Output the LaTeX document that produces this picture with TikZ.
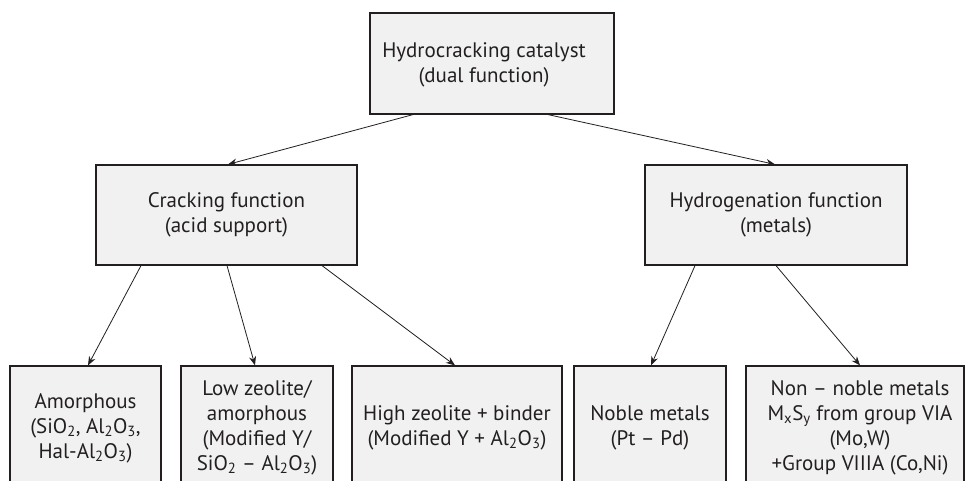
\documentclass[tikz,border=0pt]{standalone}
\usepackage{fontspec}
\setmainfont{PT Sans}
\usetikzlibrary{arrows.meta}
\definecolor{boxfill}{HTML}{F1F1F1}
\definecolor{ink}{HTML}{231F20}
\tikzset{
  box/.style={draw=ink, fill=boxfill, line width=1.2pt, inner sep=0pt, align=center,
    text=ink, font=\fontsize{21}{25}\selectfont},
  txt/.style={inner sep=0pt, align=center, text=ink, font=\fontsize{21}{25}\selectfont},
  conn/.style={draw=ink, line width=0.8pt, -{Stealth[length=9pt,width=7pt]}}
}
\begin{document}
\begin{tikzpicture}[x=1pt,y=-1pt]
\clip (0,0) rectangle (965,481);
\useasboundingbox (0,0) rectangle (965,481);
\fill[white] (0,0) rectangle (965,481);
% top
\node[box, minimum width=244pt, minimum height=101pt] (top) at (492,63.5) {};
\node[txt] (toptxt) at ([xshift=-8pt,yshift=-1.5pt]top.center)
  {Hydrocracking catalyst\\(dual function)};
% middle
\node[box, minimum width=261pt, minimum height=100pt] (crack) at (226.5,215)
  {Cracking function\\(acid support)};
\node[box, minimum width=262pt, minimum height=100pt] (hydro) at (776,215)
  {Hydrogenation function\\(metals)};
% bottom
\node[box, minimum width=151pt, minimum height=124pt] (amor) at (85.5,428)
  {Amorphous\\(SiO\textsubscript{2}, Al\textsubscript{2}O\textsubscript{3},\\Hal-Al\textsubscript{2}O\textsubscript{3})};
\node[box, minimum width=152pt, minimum height=124pt] (low) at (257,428)
  {Low zeolite/\\amorphous\\(Modified Y/\\SiO\textsubscript{2} -- Al\textsubscript{2}O\textsubscript{3})};
\node[box, minimum width=210pt, minimum height=124pt] (high) at (457,428)
  {High zeolite + binder\\(Modified Y + Al\textsubscript{2}O\textsubscript{3})};
\node[box, minimum width=152pt, minimum height=124pt] (noble) at (650,428)
  {Noble metals\\(Pt -- Pd)};
\node[box, minimum width=218pt, minimum height=124pt] (non) at (855,428) {};
\node[txt] (nontxt) at ([xshift=5pt]non.center)
  {Non -- noble metals\\M\textsubscript{x}S\textsubscript{y} from group VIA\\(Mo,W)\\+Group VIIIA (Co,Ni)};
% connectors
\draw[conn] ([xshift=-79pt]top.south) -- ([xshift=1.5pt]crack.north);
\draw[conn] ([xshift=56pt]top.south) -- ([xshift=-1pt]hydro.north);
\draw[conn] ([xshift=-85.5pt]crack.south) -- ([xshift=2.5pt]amor.north);
\draw[conn] ([xshift=0.5pt]crack.south) -- ([xshift=-2pt]low.north);
\draw[conn] ([xshift=95.5pt]crack.south) -- ([xshift=-2pt]high.north);
\draw[conn] ([xshift=-81pt]hydro.south) -- ([xshift=1pt]noble.north);
\draw[conn] ([xshift=0pt]hydro.south) -- ([xshift=5pt]non.north);
\end{tikzpicture}
\end{document}
